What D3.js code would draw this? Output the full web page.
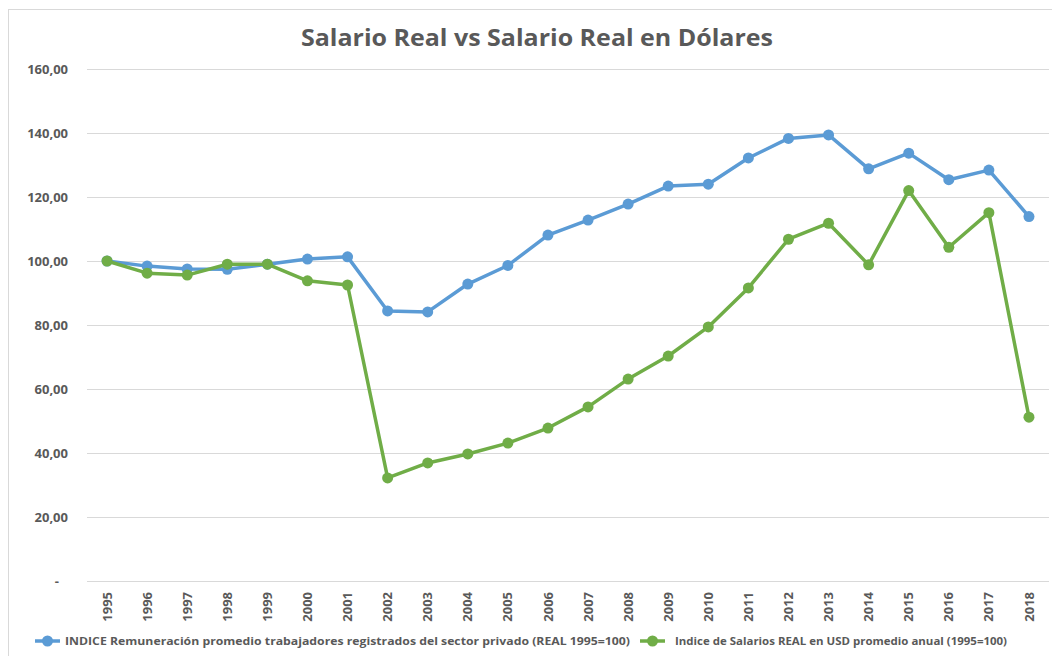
<!DOCTYPE html>
<html>
<head>
<meta charset="utf-8">
<script src="https://cdn.jsdelivr.net/npm/d3@7"></script>
<style>
  body { margin: 0; background: #fff; }
  text { font-family: "Open Sans", "DejaVu Sans", sans-serif; }
</style>
</head>
<body>
<svg></svg>
<script>
const width = 1052,
    height = 656;

// data
const years = ["1995","1996","1997","1998","1999","2000","2001","2002","2003","2004","2005","2006",
    "2007","2008","2009","2010","2011","2012","2013","2014","2015","2016","2017","2018"];
const salarioReal = [100, 98.4, 97.5, 97.4, 99.0, 100.6, 101.3, 84.4, 84.1, 92.8, 98.6, 108.1,
    112.8, 117.8, 123.4, 124.0, 132.2, 138.3, 139.4, 128.8, 133.7, 125.4, 128.4, 113.9];
const salarioUsd = [100, 96.2, 95.6, 99.0, 99.0, 93.8, 92.5, 32.2, 36.9, 39.7, 43.1, 47.8,
    54.4, 63.1, 70.3, 79.4, 91.6, 106.8, 111.8, 98.8, 122.0, 104.3, 115.1, 51.2];
const yTicks = [0, 20, 40, 60, 80, 100, 120, 140, 160];
const seriesNames = [
    "INDICE Remuneración promedio trabajadores registrados del sector privado (REAL 1995=100)",
    "Indice de Salarios REAL en USD promedio anual (1995=100)"
];
const colors = ["#5B9BD5", "#70AD47"];

const svg = d3.select("svg").attr("width", width).attr("height", height);

const margin = {top: 69, left: 87, right: 3, bottom: 75};

// chart frame
svg.append("rect")
    .attr("x", 8.5).attr("y", 9.5)
    .attr("width", width + 20).attr("height", height + 20)
    .attr("fill", "none").attr("stroke", "#D9D9D9");

svg.append("text")
    .attr("x", 537).attr("y", 46)
    .attr("text-anchor", "middle")
    .attr("font-size", 24).attr("font-weight", "bold")
    .attr("fill", "#595959")
    .attr("textLength", 472).attr("lengthAdjust", "spacingAndGlyphs")
    .text("Salario Real vs Salario Real en Dólares");

const x = d3.scaleBand()
    .domain(years)
    .range([margin.left, width - margin.right]);

const y = d3.scaleLinear()
    .domain([0, 160])
    .range([height - margin.bottom, margin.top]);

// gridlines
svg.append("g").selectAll("line")
    .data(yTicks)
    .enter().append("line")
    .attr("x1", margin.left).attr("x2", width - margin.right)
    .attr("y1", d => Math.round(y(d)) + 0.5).attr("y2", d => Math.round(y(d)) + 0.5)
    .attr("stroke", "#D9D9D9").attr("stroke-width", 1);

const fmt = d => d === 0 ? "-" : d3.format(".2f")(d).replace(".", ",");

const yAxis = svg.append("g")
    .attr("transform", `translate(${margin.left - 19},0)`)
    .call(d3.axisLeft(y).tickValues(yTicks).tickFormat(fmt).tickSize(0).tickPadding(0));
yAxis.select(".domain").remove();
yAxis.selectAll("text")
    .attr("font-size", 13).attr("font-weight", "bold").attr("fill", "#595959")
    .attr("font-family", "'Open Sans', sans-serif")
    .attr("dy", "0.35em")
    .attr("dx", d => d === 0 ? -9 : 0);

const xAxis = svg.append("g")
    .attr("transform", `translate(0,${height - margin.bottom})`)
    .call(d3.axisBottom(x).tickSize(0));
xAxis.select(".domain").remove();
xAxis.selectAll("text")
    .attr("transform", "rotate(-90)")
    .attr("text-anchor", "end")
    .attr("x", -11).attr("y", 0).attr("dy", "0.35em")
    .attr("font-size", 13).attr("font-weight", "bold").attr("fill", "#595959")
    .attr("font-family", "'Open Sans', sans-serif");

const cx = d => x(d) + x.bandwidth() / 2;

[salarioReal, salarioUsd].forEach((values, i) => {
    const pts = years.map((yr, j) => ({year: yr, value: values[j]}));
    const line = d3.line().x(d => cx(d.year)).y(d => y(d.value));
    svg.append("path")
        .datum(pts)
        .attr("d", line)
        .attr("fill", "none")
        .attr("stroke", colors[i])
        .attr("stroke-width", 3.5)
        .attr("stroke-linejoin", "round");
    svg.append("g").selectAll("circle")
        .data(pts)
        .enter().append("circle")
        .attr("cx", d => cx(d.year))
        .attr("cy", d => y(d.value))
        .attr("r", 5.5)
        .attr("fill", colors[i]);
});

// legend
const legendItems = [
    {x: 35, textX: 65, len: 565},
    {x: 640, textX: 675, len: 332}
];
legendItems.forEach((it, i) => {
    const g = svg.append("g").attr("transform", `translate(0,641)`);
    g.append("line")
        .attr("x1", it.x).attr("x2", it.x + 25)
        .attr("y1", 0).attr("y2", 0)
        .attr("stroke", colors[i]).attr("stroke-width", 3.5);
    g.append("circle")
        .attr("cx", it.x + 12.5).attr("cy", 0).attr("r", 5.5)
        .attr("fill", colors[i]);
    g.append("text")
        .attr("x", it.textX).attr("y", 0).attr("dy", "0.35em")
        .attr("font-size", 11).attr("font-weight", "bold").attr("fill", "#595959")
        .attr("textLength", it.len).attr("lengthAdjust", "spacingAndGlyphs")
        .text(seriesNames[i]);
});
</script>
</body>
</html>
